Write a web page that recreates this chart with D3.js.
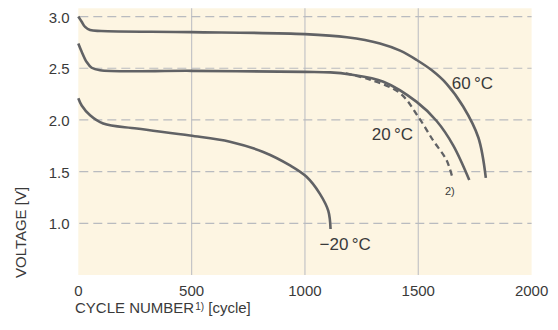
<!DOCTYPE html>
<html>
<head>
<meta charset="utf-8">
<script src="https://cdn.jsdelivr.net/npm/d3@7"></script>
<style>
  body { margin: 0; background: #fff; }
  svg { display: block; font-family: "Liberation Sans", Arial, sans-serif; }
</style>
</head>
<body>
<div id="plot"></div>
<script>
// Cycle life at different temperatures
const cycles60 = [0, 15, 30, 52, 100, 500, 1000, 1185, 1331, 1420, 1493, 1560, 1625, 1698, 1765, 1798];
const volts60 = [3.0, 2.95, 2.90, 2.87, 2.86, 2.85, 2.83, 2.80, 2.74, 2.67, 2.58, 2.48, 2.35, 2.13, 1.83, 1.44];

const cycles20 = [0, 15, 37, 59, 96, 500, 1000, 1112, 1199, 1346, 1493, 1581, 1654, 1725];
const volts20 = [2.74, 2.66, 2.56, 2.505, 2.48, 2.475, 2.465, 2.46, 2.44, 2.37, 2.175, 1.99, 1.755, 1.42];

// footnote 2) curve
const cycles20b = [1180, 1287, 1419, 1500, 1566, 1625, 1652];
const volts20b = [2.45, 2.39, 2.26, 2.03, 1.80, 1.61, 1.43];

const cyclesM20 = [0, 15, 52, 110, 258, 493, 669, 816, 934, 1007, 1066, 1103, 1113];
const voltsM20 = [2.21, 2.14, 2.045, 1.965, 1.917, 1.85, 1.79, 1.69, 1.56, 1.45, 1.285, 1.12, 0.945];

const xTicks = [0, 500, 1000, 1500, 2000];
const yTicks = [1.0, 1.5, 2.0, 2.5, 3.0];

const W = 558, H = 330;
const svg = d3.select('#plot').append('svg').attr('width', W).attr('height', H);

const x = d3.scaleLinear().domain([0, 2000]).range([78.3, 531.6]);
const y = d3.scaleLinear().domain([0.5, 3.08]).range([275, 8.3]);

const ink = '#3a3a3a';
const curveCol = '#616265';

// plot background
svg.append('rect')
  .attr('x', x(0)).attr('y', y(3.08))
  .attr('width', x(2000) - x(0)).attr('height', y(0.5) - y(3.08))
  .attr('fill', '#fdf5e2');

// vertical grid (solid)
svg.append('g').selectAll('line')
  .data(xTicks.filter(d => d > 0 && d < 2000))
  .enter().append('line')
  .attr('x1', d => x(d)).attr('x2', d => x(d))
  .attr('y1', y(3.08)).attr('y2', y(0.5))
  .attr('stroke', '#c4c4c6').attr('stroke-width', 1.2);

// horizontal grid (dashed)
svg.append('g').selectAll('line')
  .data(yTicks)
  .enter().append('line')
  .attr('x1', x(0) + 1).attr('x2', x(2000))
  .attr('y1', d => y(d)).attr('y2', d => y(d))
  .attr('stroke', '#b9bbbf').attr('stroke-width', 1.2)
  .attr('stroke-dasharray', '9,5');

// tick labels
svg.append('g').selectAll('text')
  .data(yTicks)
  .enter().append('text')
  .attr('x', 69.5).attr('y', d => y(d)).attr('dy', '0.4em')
  .attr('text-anchor', 'end')
  .style('font-size', '15px').style('fill', ink)
  .text(d => d.toFixed(1));

svg.append('g').selectAll('text')
  .data(xTicks)
  .enter().append('text')
  .attr('x', d => x(d)).attr('y', 296)
  .attr('text-anchor', 'middle')
  .style('font-size', '15px').style('fill', ink)
  .text(d => d);

// curves
const line = d3.line()
  .x(d => x(d[0])).y(d => y(d[1]))
  .curve(d3.curveCatmullRom.alpha(0.5));

const zip = (a, b) => a.map((c, i) => [c, b[i]]);

[[cycles60, volts60], [cycles20, volts20], [cyclesM20, voltsM20]].forEach(([c, v]) => {
  svg.append('path')
    .datum(zip(c, v))
    .attr('d', line)
    .attr('fill', 'none')
    .attr('stroke', curveCol)
    .attr('stroke-width', 2.6)
    .attr('stroke-linecap', 'butt');
});

svg.append('path')
  .datum(zip(cycles20b, volts20b))
  .attr('d', line)
  .attr('fill', 'none')
  .attr('stroke', curveCol)
  .attr('stroke-width', 2.3)
  .attr('stroke-dasharray', '6,4');

// curve labels
const labels = [
  { t: '60\u2009°C', x: 451.7, y: 89.3 },
  { t: '20\u2009°C', x: 371.7, y: 140 },
  { t: '\u221220\u2009°C', x: 319.5, y: 250 }
];
svg.append('g').selectAll('text')
  .data(labels)
  .enter().append('text')
  .attr('x', d => d.x).attr('y', d => d.y)
  .style('font-size', '17px').style('fill', ink)
  .text(d => d.t);

svg.append('text')
  .attr('x', 445).attr('y', 195)
  .style('font-size', '11px').style('fill', ink)
  .text('2)');

// axis titles
const xt = svg.append('text')
  .attr('x', 75).attr('y', 313)
  .style('font-size', '15px').style('fill', ink);
xt.append('tspan').text('CYCLE NUMBER');
xt.append('tspan').attr('dx', 1).attr('dy', -3).style('font-size', '10px').text('1)');
xt.append('tspan').attr('dy', 3).text(' [cycle]');

svg.append('text')
  .attr('transform', 'translate(26,278) rotate(-90)')
  .attr('text-anchor', 'start')
  .style('font-size', '15px').style('fill', ink)
  .text('VOLTAGE [V]');
</script>
</body>
</html>
